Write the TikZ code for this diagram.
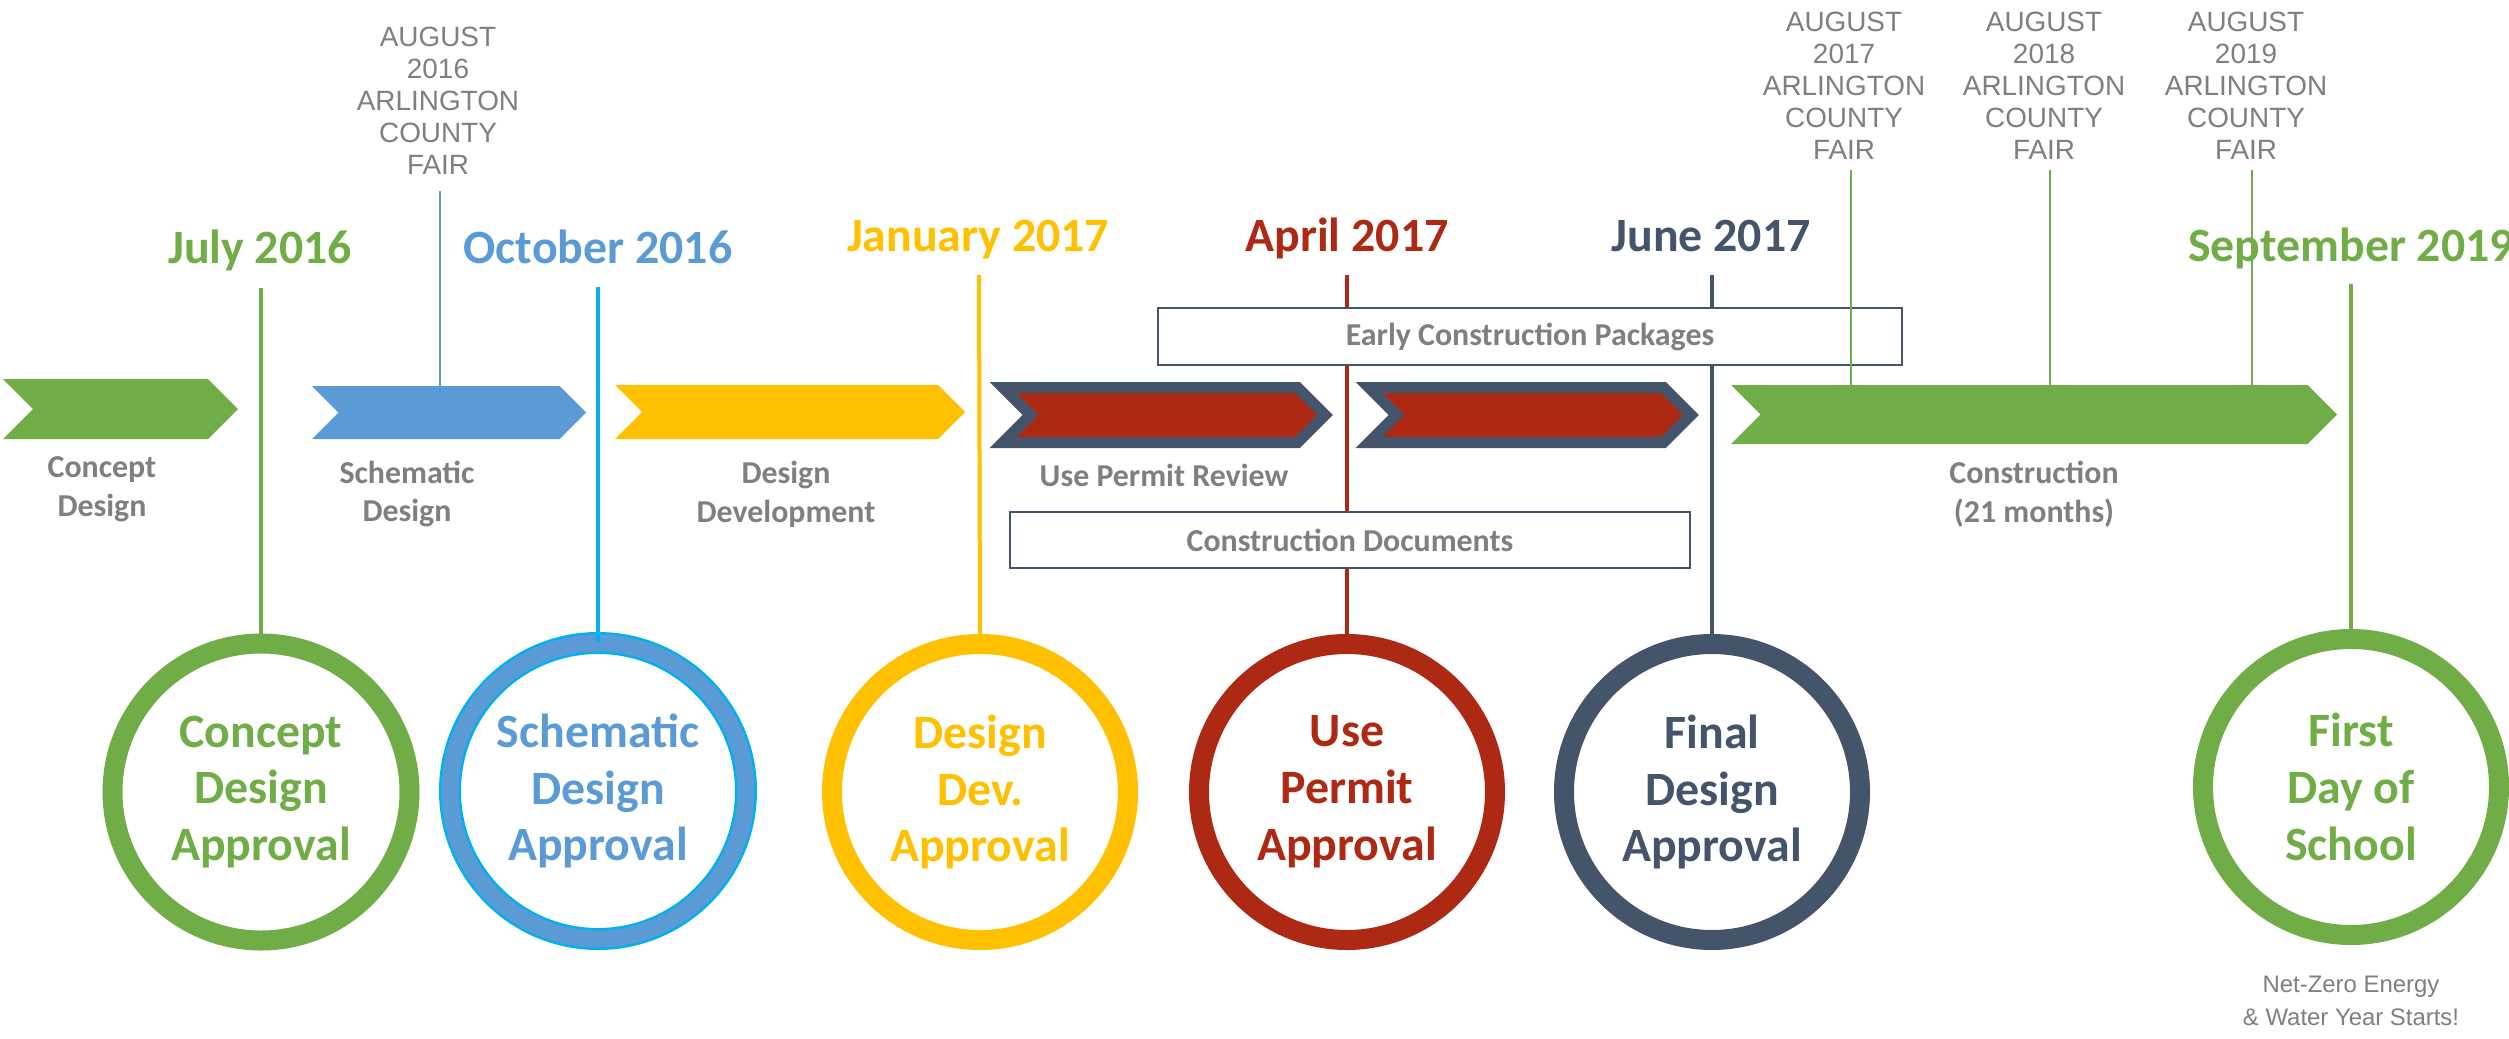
\documentclass[tikz,border=0pt]{standalone}
\usepackage{fontspec}
\setmainfont{Carlito}
\newfontfamily\arialfont{Liberation Sans}
\usetikzlibrary{positioning}
\definecolor{lgreen}{RGB}{112,173,71}
\definecolor{lblue}{RGB}{91,155,213}
\definecolor{lcyan}{RGB}{0,176,240}
\definecolor{lyellow}{RGB}{255,192,0}
\definecolor{lred}{RGB}{174,41,20}
\definecolor{lnavy}{RGB}{68,84,106}
\definecolor{lgray}{RGB}{127,127,127}
\tikzstyle{milestone} = [circle, draw, line width=20bp, fill=white,
  minimum size=296bp, inner sep=0pt, align=center,
  font=\fontsize{48}{57}\selectfont\bfseries]
\tikzstyle{datelabel} = [anchor=base, inner sep=0pt,
  font=\fontsize{48}{55}\selectfont\bfseries]
\tikzstyle{phase} = [text=lgray, align=center, inner sep=0pt,
  font=\fontsize{32}{39}\selectfont\bfseries]
\tikzstyle{fair} = [text=lgray, align=center, inner sep=0pt,
  font=\arialfont\fontsize{28}{32}\selectfont]
\tikzstyle{package} = [rectangle, draw=lnavy, line width=2.5bp, fill=white,
  text=lgray, font=\fontsize{32}{36}\selectfont\bfseries]
\tikzstyle{tick} = [line width=4bp]
\tikzstyle{fairline} = [line width=1.5bp]
\tikzstyle{permitchev} = [fill=lred, draw=lnavy, line width=11bp]
% chevron: style, left x, tip x, top y, bottom y
\newcommand{\chevron}[5]{%
  \path[#1] (#2,#4) -- ({#3-(#5-#4)/2},#4) -- (#3,{(#4+#5)/2})
    -- ({#3-(#5-#4)/2},#5) -- (#2,#5) -- ({#2+(#5-#4)/2},{(#4+#5)/2}) -- cycle;}

\begin{document}
\begin{tikzpicture}[x=1bp, y=-1bp]

  \path[use as bounding box, fill=white] (0,0) rectangle (2509,1038);

  %%%%%%%%%%%%%%%%%%%%%%%%%%%%%%%%%%%%%%%%%%%%%%%%%%%%%%%%%%%%%%
  %                    DATES                                   %
  %%%%%%%%%%%%%%%%%%%%%%%%%%%%%%%%%%%%%%%%%%%%%%%%%%%%%%%%%%%%%%

  \node [datelabel, text=lgreen]  (july)      at (260,263)  {July 2016};
  \node [datelabel, text=lblue]   (october)   at (598,263)  {October 2016};
  \node [datelabel, text=lyellow] (january)   at (978,251)  {January 2017};
  \node [datelabel, text=lred]    (april)     at (1347,251) {April 2017};
  \node [datelabel, text=lnavy]   (june)      at (1711,251) {June 2017};
  \node [datelabel, text=lgreen]  (september) at (2351,261) {September 2019};

  \coordinate (july-top)      at (261,288);
  \coordinate (october-top)   at (598,287);
  \coordinate (january-top)   at (979,275);
  \coordinate (april-top)     at (1347,275);
  \coordinate (june-top)      at (1712,275);
  \coordinate (september-top) at (2351,284);

  %%%%%%%%%%%%%%%%%%%%%%%%%%%%%%%%%%%%%%%%%%%%%%%%%%%%%%%%%%%%%%
  %                    MILESTONES                              %
  %%%%%%%%%%%%%%%%%%%%%%%%%%%%%%%%%%%%%%%%%%%%%%%%%%%%%%%%%%%%%%

  \node [milestone, draw=lgreen, text=lgreen, minimum size=297bp] (concept) at (261,792)
    {Concept\\Design\\Approval};
  \node [milestone, draw=lcyan, line width=2.5bp, double=lblue, double distance=17bp,
    text=lblue] (schematic) at (598,791) {Schematic\\Design\\Approval};
  \node [milestone, draw=lyellow, text=lyellow] (designdev) at (980,792)
    {Design\\Dev.\\Approval};
  \node [milestone, draw=lred, text=lred] (permit) at (1347,792)
    {Use\\Permit\\Approval};
  \node [milestone, draw=lnavy, text=lnavy] (final) at (1712,792)
    {Final\\Design\\Approval};
  \node [milestone, draw=lgreen, text=lgreen] (school) at (2351,787)
    {First\\Day of\\School};

  \draw [tick, lgreen]  (july-top)      -- (concept.north);
  \draw [tick, lcyan]   (october-top)   -- (schematic.north);
  \draw [tick, lyellow] (january-top)   -- (designdev.north);
  \draw [tick, lred]    (april-top)     -- (permit.north);
  \draw [tick, lnavy]   (june-top)      -- (final.north);
  \draw [tick, lgreen]  (september-top) -- (school.north);

  \node [fair, font=\arialfont\fontsize{24}{33}\selectfont, below=31bp of school] (netzero)
    {Net-Zero Energy\\\& Water Year Starts!};

  %%%%%%%%%%%%%%%%%%%%%%%%%%%%%%%%%%%%%%%%%%%%%%%%%%%%%%%%%%%%%%
  %                    PACKAGES                                %
  %%%%%%%%%%%%%%%%%%%%%%%%%%%%%%%%%%%%%%%%%%%%%%%%%%%%%%%%%%%%%%

  \node [package, minimum width=744bp, minimum height=57bp] (early) at (1530,336.5)
    {Early Construction Packages};
  \node [package, minimum width=680bp, minimum height=56bp] (documents) at (1350,540)
    {Construction Documents};

  %%%%%%%%%%%%%%%%%%%%%%%%%%%%%%%%%%%%%%%%%%%%%%%%%%%%%%%%%%%%%%
  %                    COUNTY FAIRS                            %
  %%%%%%%%%%%%%%%%%%%%%%%%%%%%%%%%%%%%%%%%%%%%%%%%%%%%%%%%%%%%%%

  \node [fair] (fair16) at (438,101)  {AUGUST\\2016\\ARLINGTON\\COUNTY\\FAIR};
  \node [fair] (fair17) at (1844,86)  {AUGUST\\2017\\ARLINGTON\\COUNTY\\FAIR};
  \node [fair] (fair18) at (2044,86)  {AUGUST\\2018\\ARLINGTON\\COUNTY\\FAIR};
  \node [fair] (fair19) at (2246,86)  {AUGUST\\2019\\ARLINGTON\\COUNTY\\FAIR};

  \coordinate (fair16-top) at (440,191);  \coordinate (fair16-end) at (440,386);
  \coordinate (fair17-top) at (1851,170); \coordinate (fair17-end) at (1851,385);
  \coordinate (fair18-top) at (2050,170); \coordinate (fair18-end) at (2050,385);
  \coordinate (fair19-top) at (2252,170); \coordinate (fair19-end) at (2252,385);

  \draw [fairline, lblue]  (fair16-top) -- (fair16-end);
  \draw [fairline, lgreen] (fair17-top) -- (fair17-end);
  \draw [fairline, lgreen] (fair18-top) -- (fair18-end);
  \draw [fairline, lgreen] (fair19-top) -- (fair19-end);

  %%%%%%%%%%%%%%%%%%%%%%%%%%%%%%%%%%%%%%%%%%%%%%%%%%%%%%%%%%%%%%
  %                    PHASES                                  %
  %%%%%%%%%%%%%%%%%%%%%%%%%%%%%%%%%%%%%%%%%%%%%%%%%%%%%%%%%%%%%%

  \chevron{fill=lgreen}{3}{238}{379}{439}
  \chevron{fill=lblue}{312}{586}{386}{439}
  \chevron{fill=lyellow}{615}{965}{385}{439}
  \chevron{permitchev}{1003}{1325}{387.5}{442.5}
  \chevron{permitchev}{1369}{1691}{387.5}{442.5}
  \chevron{fill=lgreen}{1731}{2337}{385}{444}

  \node [phase] (concept-phase)      at (102,489)  {Concept\\Design};
  \node [phase] (schematic-phase)    at (407,494)  {Schematic\\Design};
  \node [phase] (designdev-phase)    at (786,494)  {Design\\Development};
  \node [phase] (permit-phase)       at (1164,475) {Use Permit Review};
  \node [phase] (construction-phase) at (2034,494) {Construction\\(21 months)};

\end{tikzpicture}
\end{document}
